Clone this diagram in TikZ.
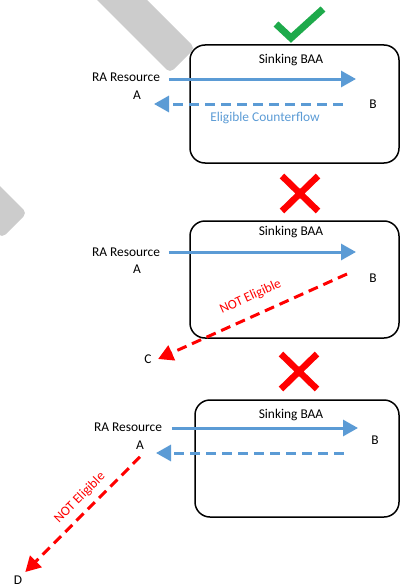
\documentclass[tikz,border=0pt]{standalone}
\usepackage{fontspec}
\setmainfont{Carlito}
\usetikzlibrary{arrows.meta,positioning}
\definecolor{flowblue}{HTML}{5B9BD5}
\definecolor{notred}{HTML}{FF0000}
\definecolor{okgreen}{HTML}{1EAA4B}
\definecolor{bandgray}{HTML}{CCCCCC}
\tikzset{
    %Define standard arrow tip
    >={Triangle[length=15pt,width=16pt]},
    %Define style for boxes
    baa/.style={
           draw,
           line width=1.5pt,
           rounded corners=15pt,},
    %Define style for flows
    flow/.style={
           ->,
           flowblue,
           line width=3pt,},
    counter/.style={
           flow,
           dash pattern=on 10pt off 6pt,},
    noflow/.style={
           ->,
           notred,
           line width=3pt,
           dash pattern=on 10pt off 6pt,},
    %Define style for marks above boxes
    okmark/.style={okgreen, line width=7pt},
    nomark/.style={notred, line width=6.5pt},
    hidden/.style={text=white},
}

\begin{document}
\begin{tikzpicture}[x=1pt, y=-1pt, font=\fontsize{13.4}{16}\selectfont]
 \useasboundingbox (0,0) rectangle (401,586);
 %gray bands
 \begin{scope}
  \clip (0,0) rectangle (401,586);
  \fill[bandgray, rounded corners=5pt] (80,-17) -- (170,73) -- (195,48) -- (130,-17) -- cycle;
  \fill[bandgray, rounded corners=5pt] (-30,156) -- (27,213) -- (2,238) -- (-30,206) -- cycle;
 \end{scope}

 %boxes
 \node[baa, minimum width=209pt, minimum height=118pt] (ba1) at (294.5,104) {};
 \node[baa, minimum width=209pt, minimum height=117pt] (ba2) at (294.5,279.5) {};
 \node[baa, minimum width=204pt, minimum height=117pt] (ba3) at (297,458.5) {};
 \node[hidden, above=1pt of ba1.south] (bal1) {BA 1};
 \node[hidden, above=1pt of ba2.south, xshift=-4pt] (bal2) {BA 1};
 \node[hidden, above=1pt of ba3.south] (bal3) {BA 1};

 %marks
 \draw[okmark] (276,24) -- (291,38) -- (323,9);
 \draw[nomark] (282,176) -- (318,211) (318,176) -- (282,211);
 \draw[nomark] (281,354) -- (317,389) (317,354) -- (281,389);

 %nodes, first case
 \node (sink1) at (291,59.5) {Sinking BAA};
 \node (res1) at (126,77) {RA Resource};
 \node (a1) at (137,95) {A};
 \node (b1) at (373,104) {B};
 \node[flowblue] (elig1) at (265,118) {Eligible Counterflow};
 \coordinate (tip1) at (356,79);
 \coordinate (back1) at (154,104);
 \draw[flow] ([xshift=5.5pt,yshift=-2pt]res1.east) -- (tip1);
 \draw[counter] ([xshift=-23pt]b1.west) -- (back1);

 %nodes, second case
 \node (sink2) at (291,231.5) {Sinking BAA};
 \node (res2) at (126,252) {RA Resource};
 \node (a2) at (137,269) {A};
 \node (b2) at (373,278) {B};
 \node (c2) at (148,359) {C};
 \coordinate (tip2) at (356,252);
 \coordinate (from2) at (347,274);
 \draw[flow] ([xshift=5.5pt]res2.east) -- (tip2);
 \draw[noflow] (from2) -- ([xshift=3pt]c2.east)
   node[pos=0.47, sloped, above=8pt, text=notred] (not2) {NOT Eligible};

 %nodes, third case
 \node (sink3) at (291,414.5) {Sinking BAA};
 \node (res3) at (128,427) {RA Resource};
 \node (a3) at (140,445) {A};
 \node (b3) at (375,440) {B};
 \node[inner sep=1pt] (d3) at (18,580) {D};
 \coordinate (tip3) at (358,428);
 \coordinate (back3) at (156,453);
 \draw[flow] ([xshift=6.5pt,yshift=-1pt]res3.east) -- (tip3);
 \draw[counter] ([xshift=-24pt]b3.west |- back3) -- (back3);
 \draw[noflow] ([yshift=-4pt]a3.south) -- ([xshift=2pt,yshift=2.5pt]d3.north east)
   node[pos=0.44, sloped, above=3pt, text=notred] (not3) {NOT Eligible};

\end{tikzpicture}
\end{document}
